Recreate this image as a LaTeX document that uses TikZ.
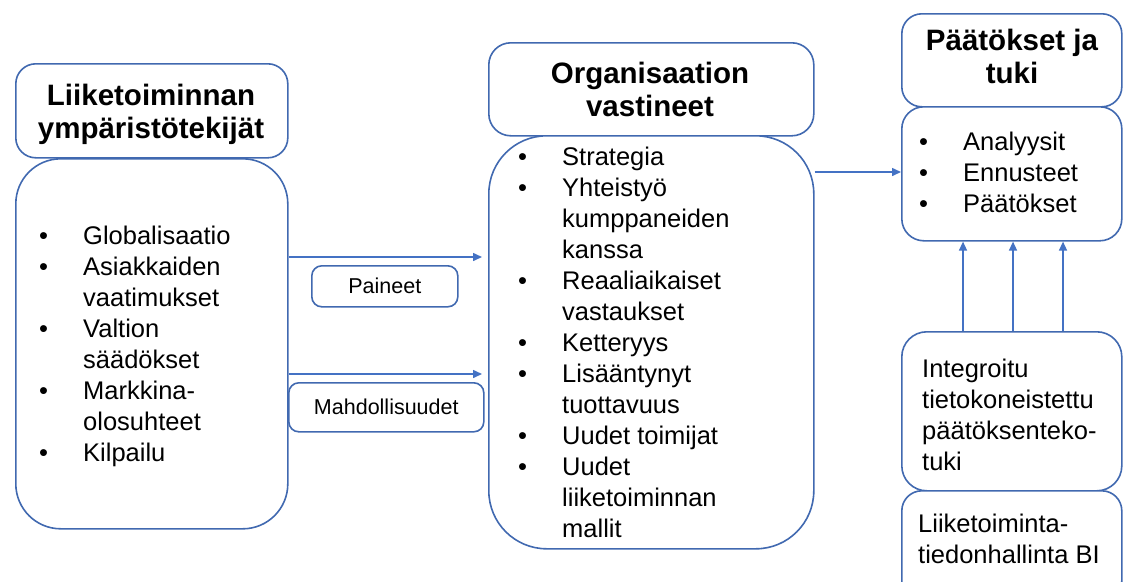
\documentclass[tikz,border=0pt]{standalone}
\usepackage{fontspec}
\setmainfont{Liberation Sans}
\usetikzlibrary{arrows.meta}
\definecolor{edgeblue}{HTML}{4169B0}
\definecolor{arrowblue}{HTML}{4472C4}
\tikzset{
  box/.style={draw=edgeblue, line width=1.6pt, fill=white, anchor=north west, inner sep=0pt},
  arr/.style={draw=arrowblue, line width=1.5pt, -{Triangle[length=9pt,width=8pt]}},
  head/.style={inner sep=0pt, anchor=base, font=\fontsize{29.5}{33}\selectfont\bfseries},
  body/.style={inner sep=0pt, anchor=base west, font=\fontsize{25.5}{31}\selectfont},
  tag/.style={inner sep=0pt, anchor=center, font=\fontsize{21.5}{26}\selectfont},
}
\newcommand{\listtab}[1]{\begin{tabular}[t]{@{}p{44pt}@{}l@{}}#1\end{tabular}}
\begin{document}
\begin{tikzpicture}[x=1pt,y=-1pt]
\useasboundingbox (0,0) rectangle (1123,581);

% left column: environment factors
\node[box, rounded corners=20pt, minimum width=272pt, minimum height=94pt] (lt) at (15,63) {};
\node[box, rounded corners=45pt, minimum width=272pt, minimum height=370pt] (lb) at (15,158) {};
\node[head] (ltx) at (151,105) {\begin{tabular}[t]{@{}c@{}}Liiketoiminnan\\ympäristötekijät\end{tabular}};
\node[body] (lbx) at (39,244) {\listtab{%
• & Globalisaatio\\
• & Asiakkaiden\\
  & vaatimukset\\
• & Valtion\\
  & säädökset\\
• & Markkina-\\
  & olosuhteet\\
• & Kilpailu}};

% middle column: organisational responses
\node[box, rounded corners=22pt, minimum width=325pt, minimum height=93pt] (mt) at (488,42) {};
\node[box, rounded corners=58pt, minimum width=325pt, minimum height=413pt] (mb) at (488,135) {};
\node[head] (mtx) at (650,83) {\begin{tabular}[t]{@{}c@{}}Organisaation\\vastineet\end{tabular}};
\node[body] (mbx) at (518,165) {\listtab{%
• & Strategia\\
• & Yhteistyö\\
  & kumppaneiden\\
  & kanssa\\
• & Reaaliaikaiset\\
  & vastaukset\\
• & Ketteryys\\
• & Lisääntynyt\\
  & tuottavuus\\
• & Uudet toimijat\\
• & Uudet\\
  & liiketoiminnan\\
  & mallit}};

% pressure and opportunity labels
\node[box, rounded corners=10pt, minimum width=146pt, minimum height=41pt] (pa) at (311,265) {};
\node[tag] (patx) at (pa.center) {Paineet};
\node[box, rounded corners=10pt, minimum width=195pt, minimum height=49pt] (ma) at (288,382) {};
\node[tag] (matx) at (ma.center) {Mahdollisuudet};

% right column: decisions and support
\node[box, rounded corners=20pt, minimum width=220pt, minimum height=93pt] (rt) at (901,13) {};
\node[box, rounded corners=22pt, minimum width=220pt, minimum height=134pt] (rb) at (901,106) {};
\node[head] (rtx) at (1012,50) {\begin{tabular}[t]{@{}c@{}}Päätökset ja\\tuki\end{tabular}};
\node[body] (rbx) at (919,150) {\listtab{%
• & Analyysit\\
• & Ennusteet\\
• & Päätökset}};

\node[box, rounded corners=25pt, minimum width=220pt, minimum height=159pt] (ib) at (901,331) {};
\node[body] (ibx) at (922,377) {\begin{tabular}[t]{@{}l@{}}Integroitu\\tietokoneistettu\\päätöksenteko-\\tuki\end{tabular}};
\node[box, rounded corners=20pt, minimum width=220pt, minimum height=110pt] (bi) at (901,490) {};
\node[body] (bix) at (918,532) {\begin{tabular}[t]{@{}l@{}}Liiketoiminta-\\tiedonhallinta BI\end{tabular}};

% connectors
\coordinate (y1) at (0,257);
\coordinate (y2) at (0,374);
\coordinate (y3) at (0,172);
\draw[arr, shorten >=6pt] (lb.east |- y1) -- (mb.west |- y1);
\draw[arr, shorten >=6pt] (lb.east |- y2) -- (mb.west |- y2);
\draw[arr] (mb.east |- y3) -- (rb.west |- y3);
\foreach \k/\xx in {a/963, b/1013, c/1063} {
  \coordinate (v\k) at (\xx,0);
  \draw[arr] (ib.north -| v\k) -- (rb.south -| v\k);
}
\end{tikzpicture}
\end{document}
